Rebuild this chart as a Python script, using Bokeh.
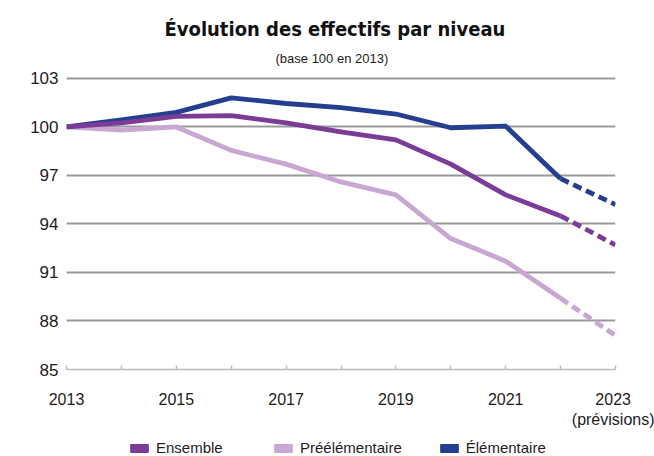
from bokeh.plotting import figure
from bokeh.layouts import column
from bokeh.models import Range1d, FixedTicker, Legend, LegendItem, Title
from bokeh.embed import file_html
from bokeh.resources import INLINE

years = list(range(2013, 2024))
ensemble = [100.0, 100.25, 100.65, 100.7, 100.25, 99.7, 99.2, 97.7, 95.8, 94.5, 92.7]
preelementaire = [100.0, 99.8, 100.0, 98.55, 97.7, 96.6, 95.8, 93.1, 91.7, 89.4, 87.1]
elementaire = [100.0, 100.43, 100.9, 101.8, 101.45, 101.2, 100.8, 99.95, 100.05, 96.8, 95.2]
y_ticks = [85, 88, 91, 94, 97, 100, 103]
x_labels = {2013: "2013", 2015: "2015", 2017: "2017", 2019: "2019", 2021: "2021",
            2023: "2023\n(prévisions)"}
n_observed = 10  # 2013..2022 observed, 2022->2023 forecast

C_ENS = "#7b3c98"
C_PRE = "#c9a7d3"
C_ELE = "#243f8f"
TXT = "#1e1b1c"
FONT = "Liberation Sans"
TITLE_FONT = "'DejaVu Sans Condensed', 'Liberation Sans Narrow', Roboto, sans-serif"

p = figure(width=654, height=430, output_backend="svg", toolbar_location=None, title=None,
           x_range=Range1d(2013, 2023), y_range=Range1d(85, 103.306),
           min_border_left=66, min_border_right=39, min_border_top=73, min_border_bottom=58)
p.outline_line_color = None
p.background_fill_color = "white"
p.border_fill_color = "white"

# subtitle then title (stacked outward)
p.add_layout(Title(text="(base 100 en 2013)", align="left", offset=209, text_font=FONT,
                   text_font_size="13px", text_font_style="normal", text_color=TXT,
                   standoff=15), "above")
p.add_layout(Title(text="Évolution des effectifs par niveau", align="left", offset=98,
                   text_font=TITLE_FONT, text_font_size="20px",
                   text_font_style="bold", text_color="#111111", standoff=1), "above")

# grid
p.xgrid.visible = False
p.ygrid.ticker = FixedTicker(ticks=[t for t in y_ticks if t != 85])
p.ygrid.grid_line_color = "#999999"
p.ygrid.grid_line_width = 2

# y axis
p.yaxis.ticker = FixedTicker(ticks=y_ticks)
p.yaxis.axis_line_color = None
p.yaxis.major_tick_line_color = None
p.yaxis.minor_tick_line_color = None
p.yaxis.major_label_standoff = 2
p.yaxis.major_label_text_font = FONT
p.yaxis.major_label_text_font_size = "17px"
p.yaxis.major_label_text_color = TXT

# x axis
p.xaxis.ticker = FixedTicker(ticks=years)
p.xaxis.major_label_overrides = {y: x_labels.get(y, "") for y in years}
p.xaxis.axis_line_color = "#bbbbbb"
p.xaxis.axis_line_width = 1.5
p.xaxis.major_tick_line_color = "#bbbbbb"
p.xaxis.major_tick_line_width = 1.5
p.xaxis.major_tick_in = 4
p.xaxis.major_tick_out = 0
p.xaxis.minor_tick_line_color = None
p.xaxis.major_label_standoff = 21
p.xaxis.major_label_text_font = FONT
p.xaxis.major_label_text_font_size = "16px"
p.xaxis.major_label_text_color = TXT

series = [(preelementaire, C_PRE), (elementaire, C_ELE), (ensemble, C_ENS)]
for vals, col in series:
    p.line(years[:n_observed], vals[:n_observed], line_color=col, line_width=4.8, line_join="round")
    p.line(years[n_observed - 1:], vals[n_observed - 1:], line_color=col, line_width=4.8,
           line_dash="9 5")

# legend in its own strip below the chart (frames are aligned with the chart above)
lf = figure(width=654, height=26, output_backend="svg", toolbar_location=None, title=None,
            x_range=Range1d(0, 1), y_range=Range1d(0, 1), min_border=0)
lf.axis.visible = False
lf.grid.visible = False
lf.outline_line_color = None
lf.background_fill_color = "white"
lf.border_fill_color = "white"

names = ["Ensemble", "Préélémentaire", "Élémentaire"]
colors = [C_ENS, C_PRE, C_ELE]
items = []
for name, col in zip(names, colors):
    # off-range swatch renderer, only used to draw the legend square
    r = lf.quad(left=[-3], right=[-2], top=[-2], bottom=[-3], fill_color=col, line_color=col)
    items.append(LegendItem(label=name, renderers=[r]))
lg = Legend(items=items, location=(62, 0), orientation="horizontal", glyph_width=22,
            glyph_height=10, label_height=10, label_width=80, label_standoff=6, spacing=36,
            padding=0, margin=0, border_line_color=None, background_fill_alpha=0,
            label_text_font=FONT, label_text_font_size="15px", label_text_color=TXT,
            label_text_baseline="middle")
lf.add_layout(lg, "center")

open("out.html", "w").write(file_html(column(p, lf, spacing=0), INLINE))
